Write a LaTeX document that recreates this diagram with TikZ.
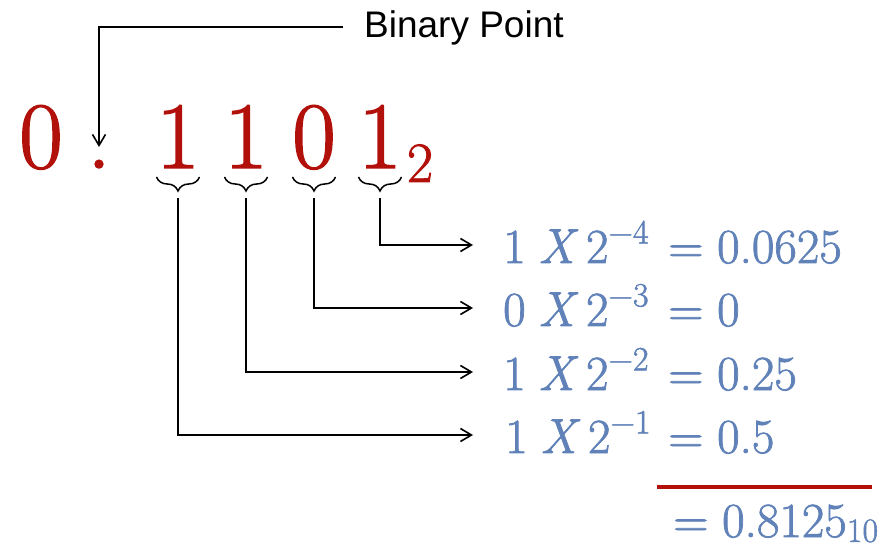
\documentclass[tikz,border=0pt]{standalone}
\usepackage{fontspec}
\newfontfamily\labelfont{Liberation Sans}
\newfontfamily\heavylm{Latin Modern Roman}[FakeBold=1.5]
\usetikzlibrary{arrows.meta,decorations.pathreplacing}
\definecolor{digred}{RGB}{178,16,10}
\definecolor{valblue}{RGB}{96,130,184}
\newcommand{\supx}[1]{\raisebox{0.4em}{\fontsize{34}{34}\selectfont #1}}
\newcommand{\subx}[1]{\raisebox{-0.1em}{\fontsize{34}{34}\selectfont #1}}
\newcommand{\term}[2]{#1\hspace{0.26em}\textit{X}\hspace{0.16em}2\supx{−#2}}
\tikzset{
  conn/.style={line width=1.6pt, black},
  arr/.style={conn, -{Straight Barb[length=11pt,width=13pt,line width=1.6pt]}},
  bigdig/.style={text=digred, inner sep=0pt, anchor=base, font=\heavylm\fontsize{95}{95}\selectfont},
  subdig/.style={text=digred, inner sep=0pt, anchor=base, font=\heavylm\fontsize{57}{57}\selectfont},
  brc/.style={line width=1.5pt, decorate, decoration={brace, amplitude=14pt}},
  rowtxt/.style={text=valblue, inner sep=0pt, anchor=base west, font=\heavylm\fontsize{49}{50}\selectfont},
  redrule/.style={line width=4pt, draw=digred}
}
\begin{document}
\begin{tikzpicture}[x=1pt,y=-1pt]
\useasboundingbox (0,0) rectangle (895,548);
% binary number
\node[bigdig] (d0) at (41,168) {0};
\node[bigdig] (pt) at (99,168) {.};
\node[bigdig] (d1) at (178,168) {1};
\node[bigdig] (d2) at (246,168) {1};
\node[bigdig] (d3) at (314,168) {0};
\node[bigdig] (d4) at (380,168) {1};
\node[subdig] (base) at (420,182) {2};
% label
\node[anchor=base west, inner sep=0pt, font=\labelfont\fontsize{37}{40}\selectfont] (bp) at (364,38) {Binary Point};
\coordinate (bpstart) at (343,27);
\coordinate (bpend) at (99,147);
\draw[arr] (bpstart) -| (bpend);
% braces
\draw[brc] (199.5,177) -- (156.5,177);
\draw[brc] (267.5,177) -- (224.5,177);
\draw[brc] (335.5,177) -- (292.5,177);
\draw[brc] (401.5,177) -- (358.5,177);
\coordinate (b1) at (178,198);
\coordinate (b2) at (246,198);
\coordinate (b3) at (314,198);
\coordinate (b4) at (380,198);
% rows
\node[rowtxt] (r1) at (503,263) {\term{1}{4}};
\node[rowtxt] (v1) at (668,263) {=\hspace{0.28em}0.0625};
\node[rowtxt] (r2) at (503,326) {\term{0}{3}};
\node[rowtxt] (v2) at (668,326) {=\hspace{0.28em}0};
\node[rowtxt] (r3) at (503,390) {\term{1}{2}};
\node[rowtxt] (v3) at (668,390) {=\hspace{0.28em}0.25};
\node[rowtxt] (r4) at (505,453) {\term{1}{1}};
\node[rowtxt] (v4) at (668,453) {=\hspace{0.28em}0.5};
\coordinate (e1) at (473,245);
\coordinate (e2) at (473,308);
\coordinate (e3) at (473,372);
\coordinate (e4) at (473,435);
\draw[arr] (b4) |- (e1);
\draw[arr] (b3) |- (e2);
\draw[arr] (b2) |- (e3);
\draw[arr] (b1) |- (e4);
% sum
\draw[redrule] (657,487) -- (872,487);
\node[rowtxt] (tot) at (673,537) {=\hspace{0.28em}0.8125\subx{10}};
\end{tikzpicture}
\end{document}
